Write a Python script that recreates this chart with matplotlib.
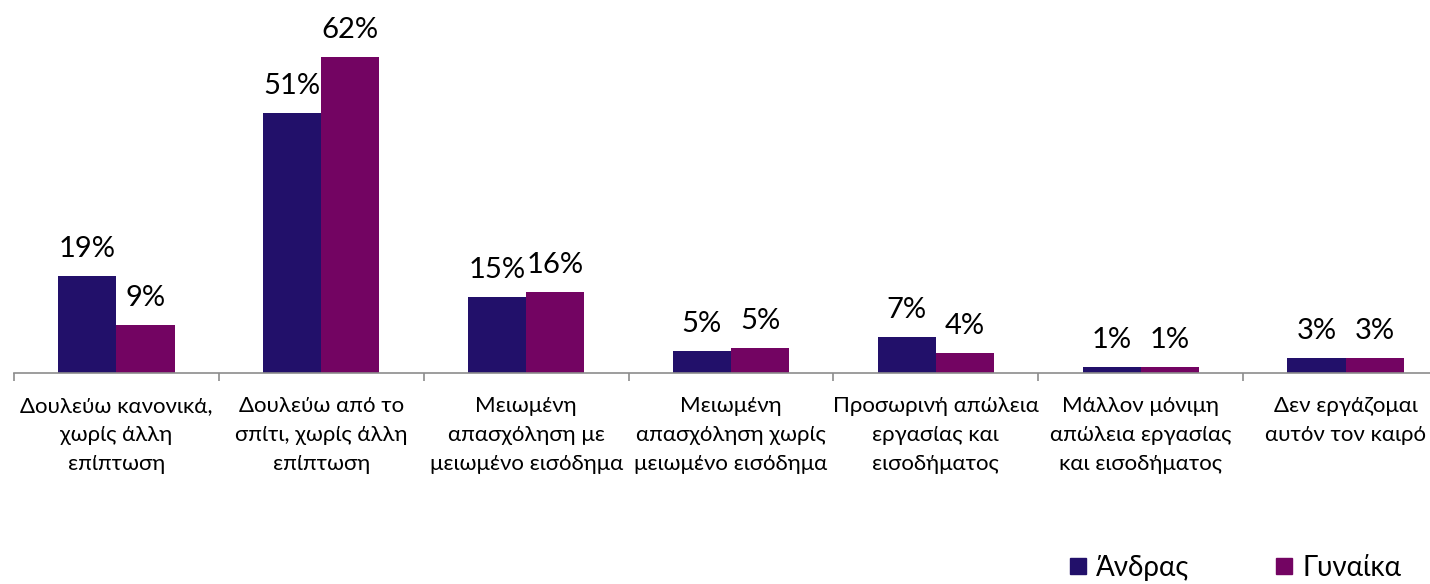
import matplotlib
matplotlib.use("Agg")
import matplotlib.pyplot as plt
from matplotlib.lines import Line2D
import numpy as np

categories = [
    "Δουλεύω κανονικά,\nχωρίς άλλη\nεπίπτωση",
    "Δουλεύω από το\nσπίτι, χωρίς άλλη\nεπίπτωση",
    "Μειωμένη\nαπασχόληση με\nμειωμένο εισόδημα",
    "Μειωμένη\nαπασχόληση χωρίς\nμειωμένο εισόδημα",
    "Προσωρινή απώλεια\nεργασίας και\nεισοδήματος",
    "Μάλλον μόνιμη\nαπώλεια εργασίας\nκαι εισοδήματος",
    "Δεν εργάζομαι\nαυτόν τον καιρό",
]
series_names = ["Άνδρας", "Γυναίκα"]
men = [19.0, 51.0, 14.9, 4.3, 7.0, 1.2, 2.9]
women = [9.5, 62.0, 15.9, 4.9, 3.9, 1.2, 2.9]
men_labels = ["19%", "51%", "15%", "5%", "7%", "1%", "3%"]
women_labels = ["9%", "62%", "16%", "5%", "4%", "1%", "3%"]

colors = ["#22106A", "#730462"]

plt.rcParams['font.family'] = ['Lato', 'Noto Sans', 'DejaVu Sans']

fig = plt.figure(figsize=(14.30, 5.84), dpi=100)
ax = fig.add_axes([14/1430, 1 - 373/584, 1434/1430, 357/584])

x = np.arange(len(categories))
w = 0.284
b1 = ax.bar(x - w/2, men, w, color=colors[0], label=series_names[0])
b2 = ax.bar(x + w/2, women, w, color=colors[1], label=series_names[1])

for bars, labs in ((b1, men_labels), (b2, women_labels)):
    for r, t in zip(bars, labs):
        ax.annotate(t, (r.get_x() + r.get_width()/2, r.get_height()),
                    xytext=(0, 10), textcoords="offset points",
                    ha="center", va="bottom", fontsize=21, color="black")

ax.set_xlim(-0.5, len(categories) - 0.5)
ax.set_ylim(0, 70)
for s in ("top", "right", "left"):
    ax.spines[s].set_visible(False)
ax.spines["bottom"].set_color("#8C8C8C")
ax.spines["bottom"].set_linewidth(1.2)
ax.set_yticks([])
ax.set_xticks(np.arange(-0.5, len(categories), 1.0))
ax.set_xticklabels([])
ax.tick_params(axis="x", length=6, width=1.2, color="#8C8C8C")

for i, c in enumerate(categories):
    ax.text(i, -0.065, c, transform=ax.get_xaxis_transform(),
            ha="center", va="top", fontsize=16, linespacing=1.55)

handles = [Line2D([], [], marker="s", linestyle="none", markersize=12,
                  color=colors[i]) for i in range(2)]
fig.legend(handles, series_names, loc="center", bbox_to_anchor=(0.863, 0.028),
           ncol=2, frameon=False, fontsize=20, handletextpad=0.25,
           columnspacing=3.0, handlelength=0.8)

fig.savefig("out.png", dpi=100)
